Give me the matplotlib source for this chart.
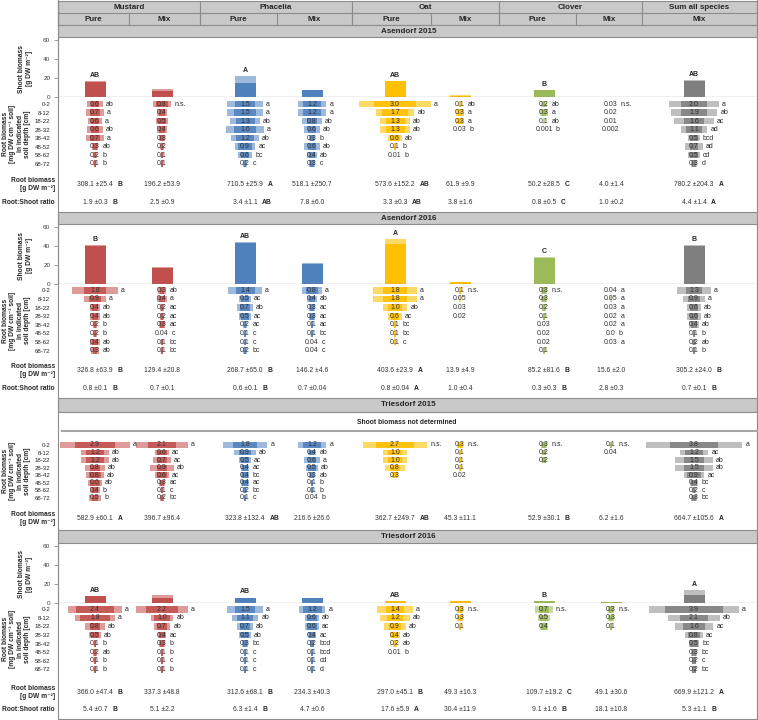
import numpy as np
import matplotlib
matplotlib.use('Agg')
import matplotlib.pyplot as plt
from matplotlib.patches import Rectangle

plt.rcParams['font.family'] = ['Liberation Sans', 'DejaVu Sans']

W, H = 758, 720

species = ['Mustard', 'Phacelia', 'Oat', 'Clover', 'Sum all species']
treatments = ['Pure', 'Mix', 'Pure', 'Mix', 'Pure', 'Mix', 'Pure', 'Mix', 'Mix']
depths = ['0-2', '8-12', '18-22', '28-32', '38-42', '48-52', '58-62', '68-72']
sites = ['Asendorf 2015', 'Asendorf 2016', 'Triesdorf 2015', 'Triesdorf 2016']

col_dark = ['#C0504D', '#C0504D', '#4F81BD', '#4F81BD', '#FFC000', '#FFC000',
            '#9BBB59', '#9BBB59', '#7F7F7F']
col_light = ['#DE9B99', '#DE9B99', '#9DB9DC', '#9DB9DC', '#FFD966', '#FFD966',
             '#C6D89F', '#C6D89F', '#BFBFBF']

# ---- Asendorf 2015
a15_shoot = [16, 7, 15, 7.5, 17, 1.7, 7.5, 0.5, 17]
a15_shoot_sd = [1, 1.4, 7.5, 0.5, 0.5, 0.5, 0.5, 0.2, 1]
a15_shoot_let = ['AB', '', 'A', '', 'AB', '', 'B', '', 'AB']
a15_root = [
    ['0.6', '0.7', '0.6', '0.6', '0.7', '0.3', '0.2', '0.1'],
    ['0.8', '0.4', '0.5', '0.4', '0.3', '0.2', '0.1', '0.1'],
    ['1.5', '1.5', '1.3', '1.6', '1.2', '0.9', '0.6', '0.2'],
    ['1.2', '1.2', '0.8', '0.6', '0.3', '0.6', '0.4', '0.3'],
    ['3.0', '1.7', '1.3', '1.3', '0.6', '0.1', '0.01'],
    ['0.1', '0.3', '0.3', '0.03'],
    ['0.2', '0.3', '0.1', '0.001'],
    ['0.03', '0.02', '0.01', '0.002'],
    ['2.0', '1.9', '1.6', '1.1', '0.5', '0.7', '0.5', '0.3'],
]
a15_root_sd = [
    [0.2, 0.2, 0.15, 0.2, 0.2, 0.05, 0.05, 0.02],
    [0.15, 0.1, 0.1, 0.1, 0.05, 0.05, 0.02, 0.02],
    [0.4, 0.35, 0.3, 0.4, 0.3, 0.2, 0.15, 0.05],
    [0.3, 0.3, 0.25, 0.2, 0.05, 0.2, 0.1, 0.05],
    [0.8, 0.35, 0.3, 0.3, 0.1, 0.02, 0.0],
    [0.02, 0.1, 0.1, 0.01],
    [0.1, 0.1, 0.05, 0.0],
    [0.01, 0.01, 0.005, 0.001],
    [0.6, 0.55, 0.5, 0.3, 0.1, 0.25, 0.1, 0.05],
]
a15_root_let = [
    ['ab', 'a', 'a', 'ab', 'a', 'ab', 'b', 'b'],
    ['n.s.', '', '', '', '', '', '', ''],
    ['a', 'a', 'ab', 'a', 'ab', 'ac', 'bc', 'c'],
    ['a', 'a', 'ab', 'ab', 'b', 'ab', 'ab', 'c'],
    ['a', 'ab', 'ab', 'ab', 'ab', 'b', 'b'],
    ['ab', 'a', 'a', 'b'],
    ['ab', 'a', 'ab', 'b'],
    ['n.s.', '', '', ''],
    ['a', 'ab', 'ac', 'ad', 'bcd', 'ad', 'cd', 'd'],
]
a15_rb = ['308.1 ±25.4', '196.2 ±53.9', '710.5 ±25.9', '518.1 ±250.7', '573.6 ±152.2',
          '61.9 ±9.9', '50.2 ±28.5', '4.0 ±1.4', '780.2 ±204.3']
a15_rb_let = ['B', '', 'A', '', 'AB', '', 'C', '', 'A']
a15_rs = ['1.9 ±0.3', '2.5 ±0.9', '3.4 ±1.1', '7.8 ±6.0', '3.3 ±0.3', '3.8 ±1.6',
          '0.8 ±0.5', '1.0 ±0.2', '4.4 ±1.4']
a15_rs_let = ['B', '', 'AB', '', 'AB', '', 'C', '', 'A']

# ---- Asendorf 2016
a16_shoot = [40, 17.5, 43.5, 21.5, 42, 2, 28, 0.5, 40.5]
a16_shoot_sd = [1, 0.5, 1, 0.5, 6, 0.5, 1, 0.2, 1]
a16_shoot_let = ['B', '', 'AB', '', 'A', '', 'C', '', 'B']
a16_root = [
    ['1.8', '0.9', '0.4', '0.4', '0.2', '0.2', '0.4', '0.3'],
    ['0.3', '0.4', '0.2', '0.2', '0.3', '0.04', '0.1', '0.1'],
    ['1.4', '0.5', '0.7', '0.5', '0.2', '0.1', '0.1', '0.2'],
    ['0.8', '0.4', '0.3', '0.3', '0.1', '0.1', '0.04', '0.04'],
    ['1.8', '1.8', '1.0', '0.6', '0.1', '0.1', '0.1'],
    ['0.1', '0.05', '0.03', '0.02'],
    ['0.3', '0.3', '0.2', '0.1', '0.03', '0.02', '0.02', '0.1'],
    ['0.04', '0.05', '0.03', '0.02', '0.02', '0.0', '0.03'],
    ['1.3', '0.9', '0.6', '0.6', '0.4', '0.1', '0.2', '0.1'],
]
a16_root_sd = [
    [0.6, 0.28, 0.1, 0.1, 0.05, 0.05, 0.1, 0.08],
    [0.08, 0.1, 0.05, 0.05, 0.06, 0.01, 0.02, 0.02],
    [0.4, 0.1, 0.15, 0.1, 0.05, 0.02, 0.02, 0.05],
    [0.22, 0.1, 0.05, 0.05, 0.02, 0.02, 0.01, 0.01],
    [0.5, 0.5, 0.3, 0.15, 0.02, 0.02, 0.02],
    [0.02, 0.01, 0.01, 0.01],
    [0.05, 0.05, 0.05, 0.02, 0.01, 0.01, 0.01, 0.02],
    [0.01, 0.01, 0.01, 0.01, 0.01, 0.0, 0.01],
    [0.5, 0.27, 0.15, 0.15, 0.1, 0.02, 0.05, 0.02],
]
a16_root_let = [
    ['a', 'a', 'ab', 'ab', 'b', 'b', 'ab', 'ab'],
    ['ab', 'a', 'ac', 'ac', 'ac', 'c', 'bc', 'bc'],
    ['a', 'ac', 'ab', 'ac', 'ac', 'c', 'c', 'bc'],
    ['a', 'ab', 'ac', 'ac', 'ac', 'bc', 'c', 'c'],
    ['a', 'a', 'ab', 'ac', 'bc', 'bc', 'c'],
    ['n.s.', '', '', ''],
    ['n.s.', '', '', '', '', '', '', ''],
    ['a', 'a', 'a', 'a', 'a', 'b', 'a'],
    ['a', 'a', 'ab', 'ab', 'ab', 'b', 'ab', 'b'],
]
a16_rb = ['326.8 ±63.9', '129.4 ±20.8', '268.7 ±65.0', '146.2 ±4.6', '403.6 ±23.9',
          '13.9 ±4.9', '85.2 ±81.6', '15.6 ±2.0', '305.2 ±24.0']
a16_rb_let = ['B', '', 'B', '', 'A', '', 'B', '', 'B']
a16_rs = ['0.8 ±0.1', '0.7 ±0.1', '0.6 ±0.1', '0.7 ±0.04', '0.8 ±0.04', '1.0 ±0.4',
          '0.3 ±0.3', '2.8 ±0.3', '0.7 ±0.1']
a16_rs_let = ['B', '', 'B', '', 'A', '', 'B', '', 'B']

# ---- Triesdorf 2015 (no shoot biomass)
t15_root = [
    ['2.9', '1.2', '1.2', '0.8', '0.8', '0.6', '0.4', '0.5'],
    ['2.1', '0.6', '0.7', '0.9', '0.6', '0.3', '0.1', '0.2'],
    ['1.8', '0.9', '0.5', '0.4', '0.4', '0.4', '0.2', '0.1'],
    ['1.2', '0.4', '0.6', '0.5', '0.3', '0.1', '0.1', '0.04'],
    ['2.7', '1.0', '1.0', '0.8', '0.3'],
    ['0.3', '0.1', '0.1', '0.1', '0.02'],
    ['0.3', '0.2', '0.2'],
    ['0.1', '0.04'],
    ['3.8', '1.2', '1.5', '1.5', '0.9', '0.4', '0.2', '0.3'],
]
t15_root_sd = [
    [0.75, 0.3, 0.3, 0.25, 0.15, 0.1, 0.1, 0.15],
    [0.6, 0.1, 0.2, 0.35, 0.1, 0.05, 0.02, 0.05],
    [0.55, 0.23, 0.1, 0.05, 0.05, 0.05, 0.05, 0.02],
    [0.3, 0.05, 0.2, 0.1, 0.05, 0.02, 0.02, 0.01],
    [0.7, 0.3, 0.3, 0.23, 0.05],
    [0.05, 0.02, 0.02, 0.02, 0.01],
    [0.05, 0.03, 0.03],
    [0.02, 0.01],
    [1.3, 0.3, 0.45, 0.45, 0.2, 0.05, 0.05, 0.05],
]
t15_root_let = [
    ['a', 'ab', 'ab', 'ab', 'ab', 'ab', 'b', 'b'],
    ['a', 'ac', 'ac', 'ab', 'ac', 'ac', 'c', 'bc'],
    ['a', 'ab', 'ac', 'ac', 'bc', 'ac', 'bc', 'c'],
    ['a', 'ab', 'a', 'ab', 'ab', 'b', 'b', 'b'],
    ['n.s.', '', '', '', ''],
    ['n.s.', '', '', '', ''],
    ['n.s.', '', ''],
    ['n.s.', ''],
    ['a', 'ac', 'ab', 'ab', 'ac', 'bc', 'c', 'bc'],
]
t15_rb = ['582.9 ±60.1', '396.7 ±96.4', '323.8 ±132.4', '216.6 ±26.6', '362.7 ±249.7',
          '45.3 ±11.1', '52.9 ±30.1', '6.2 ±1.6', '664.7 ±105.6']
t15_rb_let = ['A', '', 'AB', '', 'AB', '', 'B', '', 'A']

# ---- Triesdorf 2016
t16_shoot = [7, 4.5, 5, 5, 1.8, 1.5, 1.4, 0.5, 8]
t16_shoot_sd = [0.5, 3.5, 0.5, 0.5, 0.3, 0.3, 0.3, 0.2, 5]
t16_shoot_let = ['AB', '', 'AB', '', 'AB', '', 'B', '', 'A']
t16_root = [
    ['2.4', '1.8', '0.8', '0.5', '0.1', '0.2', '0.1', '0.1'],
    ['2.2', '1.0', '0.7', '0.4', '0.3', '0.1', '0.1', '0.1'],
    ['1.5', '1.1', '0.7', '0.5', '0.3', '0.1', '0.1', '0.1'],
    ['1.2', '0.6', '0.6', '0.4', '0.2', '0.1', '0.1', '0.1'],
    ['1.4', '1.2', '0.9', '0.4', '0.2', '0.01'],
    ['0.3', '0.3', '0.1'],
    ['0.7', '0.5', '0.4'],
    ['0.3', '0.3', '0.1'],
    ['3.9', '2.1', '1.6', '0.8', '0.5', '0.3', '0.2', '0.2'],
]
t16_root_sd = [
    [0.45, 0.26, 0.26, 0.1, 0.02, 0.05, 0.02, 0.02],
    [0.5, 0.2, 0.18, 0.05, 0.05, 0.02, 0.02, 0.02],
    [0.42, 0.3, 0.15, 0.1, 0.05, 0.02, 0.02, 0.02],
    [0.2, 0.1, 0.1, 0.05, 0.03, 0.02, 0.02, 0.02],
    [0.5, 0.35, 0.27, 0.1, 0.05, 0.0],
    [0.05, 0.05, 0.02],
    [0.2, 0.1, 0.05],
    [0.05, 0.05, 0.02],
    [0.84, 0.63, 0.45, 0.16, 0.05, 0.05, 0.03, 0.03],
]
t16_root_let = [
    ['a', 'a', 'ab', 'ab', 'b', 'ab', 'b', 'b'],
    ['a', 'ab', 'ab', 'ac', 'b', 'b', 'c', 'b'],
    ['a', 'ab', 'ab', 'ab', 'bc', 'c', 'c', 'c'],
    ['a', 'ab', 'ac', 'ac', 'bcd', 'bcd', 'cd', 'd'],
    ['a', 'ab', 'ab', 'ab', 'ab', 'b'],
    ['n.s.', '', ''],
    ['n.s.', '', ''],
    ['n.s.', '', ''],
    ['a', 'ab', 'ac', 'ac', 'bc', 'bc', 'c', 'bc'],
]
t16_rb = ['366.0 ±47.4', '337.3 ±48.8', '312.6 ±68.1', '234.3 ±40.3', '297.0 ±45.1',
          '49.3 ±16.3', '109.7 ±19.2', '49.1 ±30.6', '669.9 ±121.2']
t16_rb_let = ['B', '', 'B', '', 'B', '', 'C', '', 'A']
t16_rs = ['5.4 ±0.7', '5.1 ±2.2', '6.3 ±1.4', '4.7 ±0.6', '17.6 ±5.9', '30.4 ±11.9',
          '9.1 ±1.6', '18.1 ±10.8', '5.3 ±1.1']
t16_rs_let = ['B', '', 'B', '', 'A', '', 'B', '', 'B']

panels = [
    (a15_shoot, a15_shoot_sd, a15_shoot_let, a15_root, a15_root_sd, a15_root_let,
     a15_rb, a15_rb_let, a15_rs, a15_rs_let),
    (a16_shoot, a16_shoot_sd, a16_shoot_let, a16_root, a16_root_sd, a16_root_let,
     a16_rb, a16_rb_let, a16_rs, a16_rs_let),
    (None, None, None, t15_root, t15_root_sd, t15_root_let,
     t15_rb, t15_rb_let, None, None),
    (t16_shoot, t16_shoot_sd, t16_shoot_let, t16_root, t16_root_sd, t16_root_let,
     t16_rb, t16_rb_let, t16_rs, t16_rs_let),
]

# ---- layout (pixels of the 758x720 canvas)
X0, X1 = 58, 757
centers = [95, 162, 245, 312, 395, 460, 544, 611, 694]
col_edges = [58, 129, 200, 277, 352, 431, 499, 576, 642, 757]
sp_edges = [58, 200, 352, 499, 642, 757]
geo = [
    dict(bar=(25, 37.3), zero=97.3, sixty=40.3, row0=104.0, row7=163.7, rb=184.3, rs=202.0),
    dict(bar=(212, 224), zero=284.3, sixty=227.3, row0=290.3, row7=350.7, rb=370.7, rs=388.3),
    dict(bar=(398, 412), zero=None, row0=445.0, row7=497.7, rb=518.5, rs=None, line=431, note=422),
    dict(bar=(530, 543), zero=602.7, sixty=546.0, row0=609.3, row7=669.3, rb=692.0, rs=709.3),
]
K = 19.0          # px per mg DW cm-3 in root profile bars
FS_HDR = 5.8
FS_ROW = 5.0
FS_VAL = 4.9
FS_LAB = 4.8
TXT = '#262626'
HDR_FILL = '#C9C9C9'
HDR_EDGE = '#8C8C8C'


def px_axes(fig, x0, y0, x1, y1):
    return fig.add_axes([x0 / W, 1 - y1 / H, (x1 - x0) / W, (y1 - y0) / H])


def num_width(s, fs):
    em = fs * 100 / 72.0
    return sum(0.278 if ch in '. ' else 0.556 for ch in s) * em


fig = plt.figure(figsize=(W / 100, H / 100), dpi=100)
bg = fig.add_axes([0, 0, 1, 1])
bg.set_xlim(0, W)
bg.set_ylim(H, 0)
bg.axis('off')

# header
bg.add_patch(Rectangle((X0, 1), X1 - X0, 24, fc=HDR_FILL, ec=HDR_EDGE, lw=0.8))
bg.plot([X0, X1], [13.3, 13.3], color=HDR_EDGE, lw=0.8)
for x in sp_edges:
    bg.plot([x, x], [1, 25], color=HDR_EDGE, lw=0.8)
for x in col_edges[:-2]:
    bg.plot([x, x], [13.3, 25], color=HDR_EDGE, lw=0.8)
for k, name in enumerate(species):
    bg.text((sp_edges[k] + sp_edges[k + 1]) / 2, 7.3, name, ha='center', va='center',
            fontsize=FS_HDR, fontweight='bold', color=TXT)
for k, tr in enumerate(treatments):
    bg.text((col_edges[k] + col_edges[k + 1]) / 2, 19.3, tr, ha='center', va='center',
            fontsize=FS_HDR, fontweight='bold', color=TXT)

# frame
bg.plot([X0, X0], [0, H], color=HDR_EDGE, lw=0.8)
bg.plot([X1, X1], [0, H], color=HDR_EDGE, lw=0.8)
bg.plot([X0, X1], [719, 719], color=HDR_EDGE, lw=0.8)

for p, (sh, sh_sd, sh_let, root, root_sd, root_let, rb, rb_let, rs, rs_let) in enumerate(panels):
    g = geo[p]
    b0, b1 = g['bar']
    bg.add_patch(Rectangle((X0, b0), X1 - X0, b1 - b0, fc=HDR_FILL, ec=HDR_EDGE, lw=0.8))
    bg.text(381, (b0 + b1) / 2, sites[p], ha='left', va='center', fontsize=FS_HDR,
            fontweight='bold', color=TXT)

    # shoot biomass
    if sh is not None:
        top, zero, sixty = b1, g['zero'], g['sixty']
        ax = px_axes(fig, X0, top, X1, zero)
        ax.set_facecolor('none')
        ax.set_xlim(X0, X1)
        ax.set_ylim(0, 60 * (zero - top) / (zero - sixty))
        ax.bar(centers, sh, width=21, color=col_dark, zorder=2)
        ax.bar(centers, sh_sd, bottom=sh, width=21, color=col_light, zorder=2)
        for c, m, s, l in zip(centers, sh, sh_sd, sh_let):
            if l:
                ax.annotate(l, (c, m + s), xytext=(0, 1.5), textcoords='offset points',
                            ha='center', va='bottom', fontsize=FS_ROW, fontweight='bold',
                            color=TXT)
        ax.axhline(0, color='#8C8C8C', lw=0.9, zorder=3)
        for sp in ['top', 'right', 'bottom']:
            ax.spines[sp].set_visible(False)
        ax.spines['left'].set_color(HDR_EDGE)
        ax.spines['left'].set_linewidth(0.8)
        ax.set_xticks([])
        ax.set_yticks([0, 20, 40, 60])
        ax.tick_params(axis='y', length=3, width=0.6, color=HDR_EDGE, labelsize=4.6,
                       labelcolor='#404040', pad=2.5)
        bg.text(25.5, (sixty + zero) / 2, 'Shoot biomass\n[g DW m⁻²]', rotation=90,
                ha='center', va='center', fontsize=FS_LAB, fontweight='bold', color=TXT,
                linespacing=1.15)
        rtop = zero
    else:
        bg.text(407, g['note'], 'Shoot biomass not determined', ha='center', va='center',
                fontsize=FS_VAL, fontweight='bold', color=TXT)
        bg.plot([62, X1], [g['line'], g['line']], color='#A6A6A6', lw=1.5)
        rtop = g['line'] + 1

    # root profile
    r0, r7 = g['row0'], g['row7']
    s = (r7 - r0) / 7.0
    rbot = r7 + 0.7 * s
    ax = px_axes(fig, X0, rtop, X1, rbot)
    ax.set_facecolor('none')
    ax.set_xlim(X0, X1)
    ax.set_ylim(7 + (rbot - r7) / s, -(r0 - rtop) / s)
    for sp in ax.spines.values():
        sp.set_visible(False)
    ax.set_xticks([])
    ax.set_yticks(range(len(depths)))
    ax.set_yticklabels(depths)
    ax.tick_params(axis='y', length=0, pad=5.5, labelsize=4.4, labelcolor=TXT)
    for j, c in enumerate(centers):
        vals = root[j]
        m = np.array([float(v) for v in vals])
        sd = np.array(root_sd[j])
        rows = np.arange(len(vals))
        hi = (m + sd) * K
        lo = np.clip(m - sd, 0, None) * K
        ax.barh(rows, hi, left=c - hi / 2, height=0.78, color=col_light[j],
                zorder=2, lw=0)
        ax.barh(rows, lo, left=c - lo / 2, height=0.78, color=col_dark[j], alpha=0.85,
                zorder=3, lw=0)
        for i, v in enumerate(vals):
            ax.text(c, i, v, ha='center', va='center', fontsize=FS_ROW, color='#303030',
                    zorder=5)
            if root_let[j][i]:
                half = max(hi[i] / 2, num_width(v, FS_ROW) / 2)
                ax.text(c + half + 3, i, root_let[j][i], ha='left', va='center',
                        fontsize=FS_ROW, color=TXT, zorder=5)
    bg.text(16.5, (r0 + r7) / 2,
            'Root biomass\n[mg DW cm⁻³ soil]\nin indicated\nsoil depth [cm]',
            rotation=90, ha='center', va='center', fontsize=FS_LAB, fontweight='bold',
            color=TXT, linespacing=1.12)

    # root biomass and root:shoot ratio rows
    bg.text(55, g['rb'], 'Root biomass\n[g DW m⁻²]', ha='right', va='center',
            fontsize=FS_LAB, fontweight='bold', color=TXT, linespacing=1.2)
    rows_txt = [(g['rb'], rb, rb_let)]
    if rs is not None:
        bg.text(55, g['rs'], 'Root:Shoot ratio', ha='right', va='center',
                fontsize=FS_LAB, fontweight='bold', color=TXT)
        rows_txt.append((g['rs'], rs, rs_let))
    for y, vals, lets in rows_txt:
        for c, v, l in zip(centers, vals, lets):
            t = bg.text(c, y, v, ha='center', va='center', fontsize=FS_VAL, color='#333333')
            if l:
                bg.annotate(l, xy=(1, 0.5), xycoords=t, xytext=(3.5, 0),
                            textcoords='offset points', ha='left', va='center',
                            fontsize=FS_VAL, fontweight='bold', color=TXT)

fig.savefig('out.png', dpi=100)
